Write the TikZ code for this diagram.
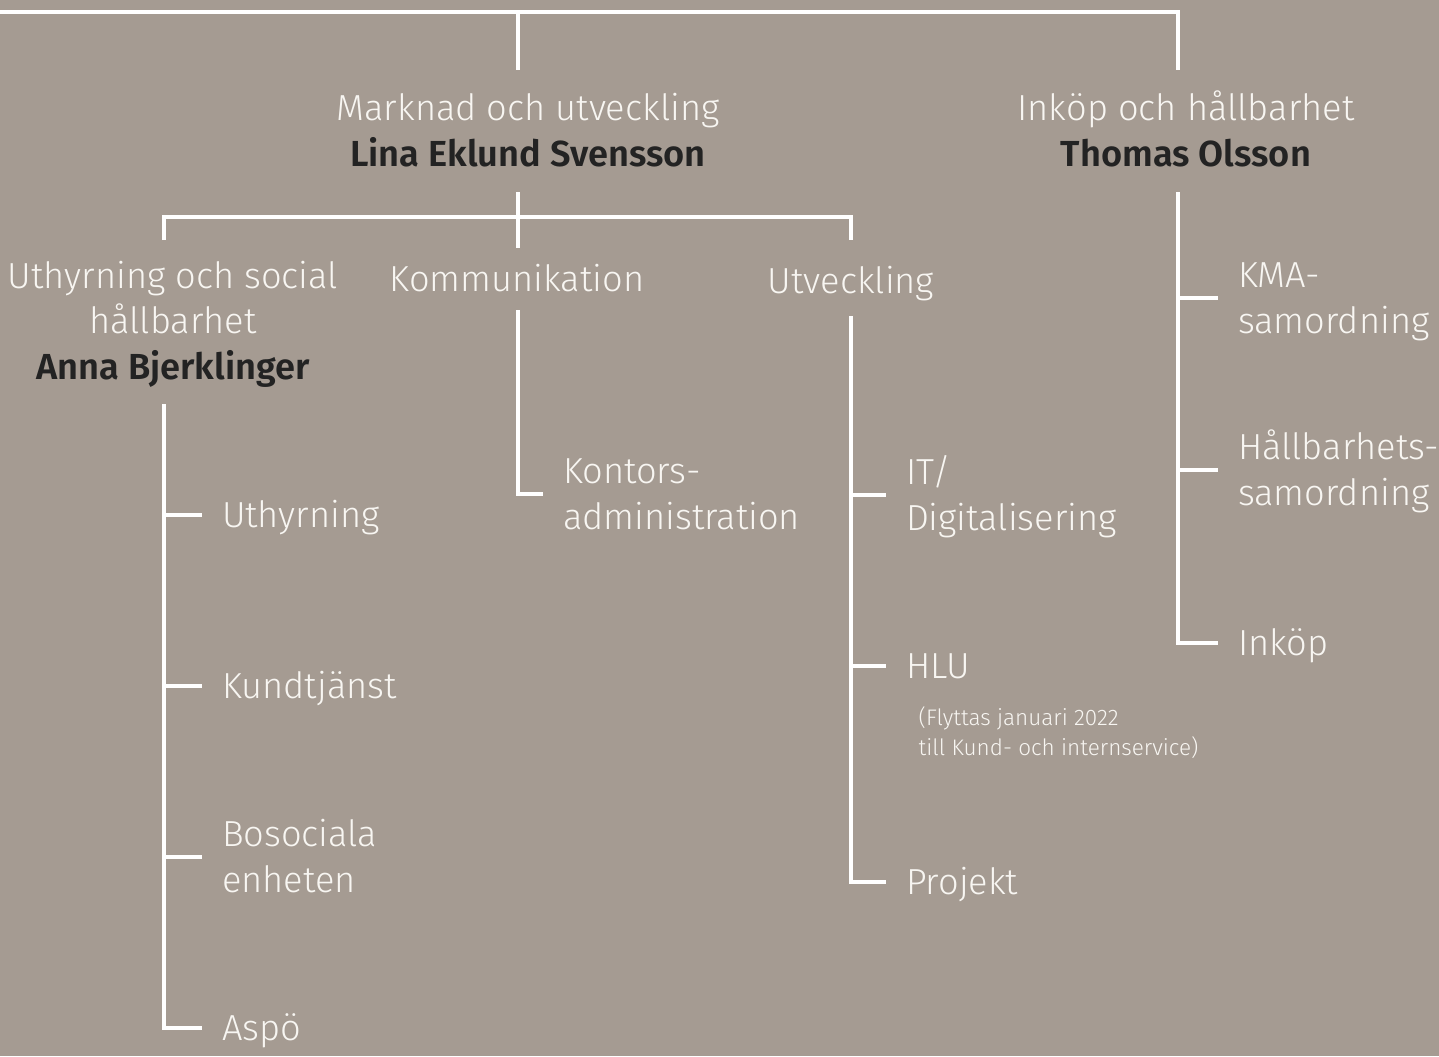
\documentclass[tikz,border=0pt]{standalone}
\usepackage{fontspec}
\setmainfont{Fira Sans Light}[BoldFont={Fira Sans SemiBold}]
\usetikzlibrary{positioning}
\definecolor{taupe}{RGB}{165,155,146}
\definecolor{offwhite}{RGB}{248,246,242}
\definecolor{namegrey}{RGB}{35,35,35}
\newcommand{\unitfont}{\fontsize{10.3}{12.9}\selectfont}
\newcommand{\notefont}{\fontsize{6.4}{8.5}\selectfont}
\newcommand{\chief}[1]{{\color{namegrey}\bfseries #1}}
\tikzset{
	head/.style={anchor=base, align=center, inner sep=0pt, text=offwhite, font=\unitfont},
	% sub units, west anchor sits on the middle of the capitals
	unit/.style={anchor=west, align=left, inner sep=0pt, outer xsep=0.2cm, text=offwhite, font=\unitfont, text height=7.1pt, text depth=0pt},
	unittwo/.style={unit, text height=20pt},
	note/.style={anchor=base west, align=left, inner sep=0pt, text=offwhite, font=\notefont},
	branch/.style={draw=white, line width=1.2pt},
}

\begin{document}
\begin{tikzpicture}[x=0.01cm, y=-0.01cm]
	\fill[taupe] (0,0) rectangle (1439,1056);
	\useasboundingbox (0,0) rectangle (1439,1056);

	\node (mou) [head] at (528,166) {Marknad och utveckling\\\chief{Lina Eklund Svensson}};
	\node (inh) [head] at (1186,166) {Inköp och hållbarhet\\\chief{Thomas Olsson}};
	\node (ush) [head] at (173,379) {Uthyrning och social\\hållbarhet\\\chief{Anna Bjerklinger}};
	\node (kom) [head] at (517,291) {Kommunikation};
	\node (utv) [head] at (851,293) {Utveckling};

	\node (uth) [unit] at (202,515) {Uthyrning};
	\node (kund) [unit] at (202,686) {Kundtjänst};
	\node (boso) [unittwo] at (202,857) {Bosociala\\enheten};
	\node (aspo) [unit] at (202,1028) {Aspö};

	\node (kont) [unittwo] at (543,494) {Kontors-\\administration};

	\node (itd) [unittwo] at (886,495) {IT/\\Digitalisering};
	\node (hlu) [unit] at (886,666) {HLU};
	\node (hlunote) [note] at (918,755) {(Flyttas januari 2022\\till Kund- och internservice)};
	\node (proj) [unit] at (886,882) {Projekt};

	\node (kma) [unittwo] at (1218,298) {KMA-\\samordning};
	\node (hsam) [unittwo] at (1218,470) {Hållbarhets-\\samordning};
	\node (inkop) [unit] at (1218,643) {Inköp};

	\coordinate (root) at (0,12);
	\coordinate (mou-in) at (518,70);
	\coordinate (mou-out) at (518,192);
	\coordinate (inh-in) at (1178,70);
	\coordinate (inh-out) at (1178,192);
	\coordinate (split) at (518,217);
	\coordinate (ush-in) at (164,240);
	\coordinate (ush-out) at (164,404);
	\coordinate (kom-in) at (518,248);
	\coordinate (kom-out) at (518,310);
	\coordinate (utv-in) at (851,240);
	\coordinate (utv-out) at (851,316);

	\begin{scope}[branch]
		\draw (root) -| (inh-in);
		\draw (mou-in |- root) -- (mou-in);
		\draw (mou-out) -- (kom-in);
		\draw (ush-in) |- (split) -| (utv-in);
		\draw (ush-out) |- (aspo);
		\foreach \u in {uth, kund, boso}
			\draw (ush-out |- \u) -- (\u);
		\draw (kom-out) |- (kont);
		\draw (utv-out) |- (proj);
		\foreach \u in {itd, hlu}
			\draw (utv-out |- \u) -- (\u);
		\draw (inh-out) |- (inkop);
		\foreach \u in {kma, hsam}
			\draw (inh-out |- \u) -- (\u);
	\end{scope}
\end{tikzpicture}
\end{document}
